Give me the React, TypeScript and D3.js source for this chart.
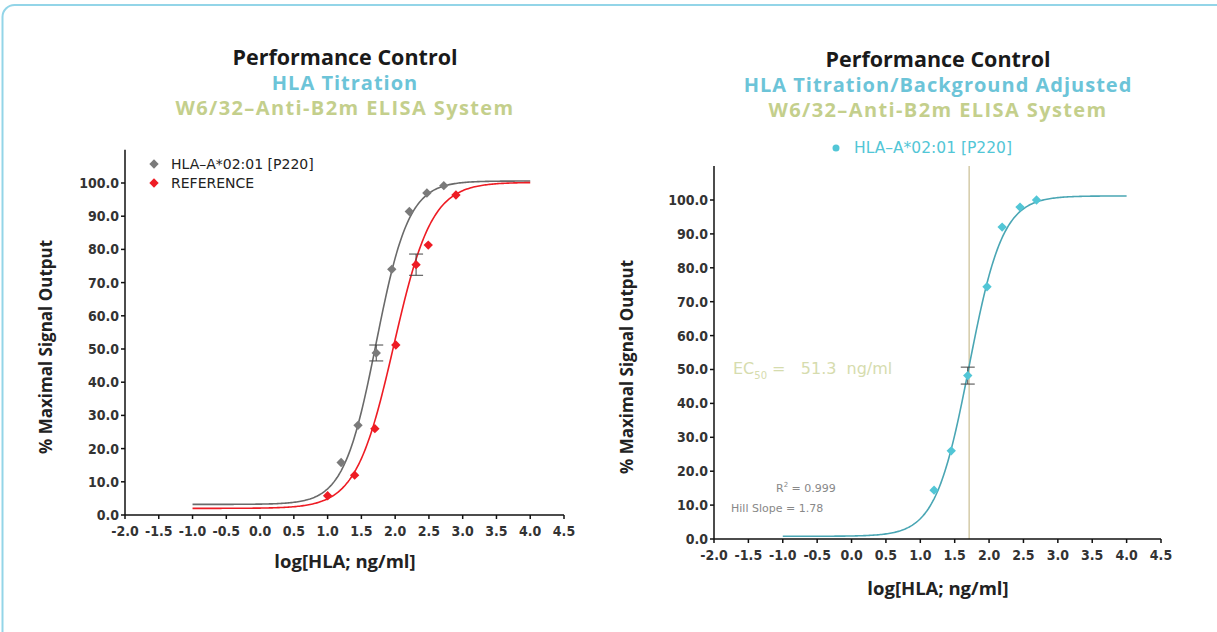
import React from "react";
import * as d3 from "d3";

// log[HLA] concentrations and % maximal signal
const grayX = [1.2, 1.45, 1.72, 1.95, 2.21, 2.47, 2.72];
const grayY = [15.8, 27.0, 48.8, 74.0, 91.4, 97.0, 99.2];
const grayErr = [0, 0, 2.4, 0, 0, 0, 0];

const redX = [1.0, 1.4, 1.7, 2.01, 2.31, 2.49, 2.9];
const redY = [5.8, 12.0, 26.0, 51.2, 75.4, 81.3, 96.4];
const redErr = [0, 0, 0, 0, 3.2, 0, 0];

const cyanX = [1.2, 1.45, 1.69, 1.97, 2.19, 2.45, 2.69];
const cyanY = [14.4, 26.0, 48.2, 74.4, 92.0, 97.9, 100.0];
const cyanErr = [0, 0, 2.5, 0, 0, 0, 0];

// 4PL fit parameters [bottom, top, logEC50, hill]
const grayFit = [3.2, 100.6, 1.72, 1.8];
const redFit = [2.0, 100.2, 1.98, 1.55];
const cyanFit = [0.8, 101.2, 1.71, 1.78];

const xTicks = [-2.0, -1.5, -1.0, -0.5, 0.0, 0.5, 1.0, 1.5, 2.0, 2.5, 3.0, 3.5, 4.0, 4.5];
const yTicks = [0, 10, 20, 30, 40, 50, 60, 70, 80, 90, 100];
const curveRange = [-1.0, 4.0];

const fmt = (v: number) => v.toFixed(1);
const tickFont = "'DejaVu Sans Condensed', 'DejaVu Sans', sans-serif";
const legFont = "'DejaVu Sans', sans-serif";
const titleFont = "'Open Sans', 'DejaVu Sans', sans-serif";

const fit4pl = (p: number[], x: number) => p[0] + (p[1] - p[0]) / (1 + Math.pow(10, (p[2] - x) * p[3]));
const diamond = d3.symbol().type(d3.symbolDiamond2).size(56)();

const Series = ({ xs, ys, errs, fit, x, y, color, line }: any) => {
    const pts = d3.range(curveRange[0], curveRange[1] + 0.001, 0.02).map(v => [v, fit4pl(fit, v)]);
    const path = d3.line().x((d: any) => x(d[0])).y((d: any) => y(d[1]))(pts as any);
    return (
        <g>
            <path d={path || ""} fill="none" stroke={line} strokeWidth={1.6} />
            {xs.map((v: number, i: number) => errs[i] > 0 ? (
                <g key={'e' + i} stroke="#444" strokeWidth={1}>
                    <line x1={x(v)} x2={x(v)} y1={y(ys[i] - errs[i])} y2={y(ys[i] + errs[i])} />
                    <line x1={x(v) - 7} x2={x(v) + 7} y1={y(ys[i] - errs[i])} y2={y(ys[i] - errs[i])} />
                    <line x1={x(v) - 7} x2={x(v) + 7} y1={y(ys[i] + errs[i])} y2={y(ys[i] + errs[i])} />
                </g>
            ) : null)}
            {xs.map((v: number, i: number) => (
                <path key={'p' + i} d={diamond || ""} transform={`translate(${x(v)},${y(ys[i])})`} fill={color} />
            ))}
        </g>
    );
};

const Axes = ({ x, y }: any) => {
    const [x0] = x.range();
    const [y0] = y.range();
    return (
        <g fontFamily={tickFont} fontSize={14} fill="#222">
            <line x1={x0} x2={x0} y1={y(110)} y2={y0} stroke="#111" strokeWidth={1.5} />
            <line x1={x0} x2={x(4.5)} y1={y0} y2={y0} stroke="#111" strokeWidth={1.5} />
            {yTicks.map(t => (
                <g key={'y' + t}>
                    <line x1={x0 - 4} x2={x0} y1={y(t)} y2={y(t)} stroke="#111" strokeWidth={1.5} />
                    <text x={x0 - 6} y={y(t)} dy="0.35em" textAnchor="end" fontWeight="bold" fill="#333">{fmt(t)}</text>
                </g>
            ))}
            {xTicks.map(t => (
                <g key={'x' + t}>
                    <line x1={x(t)} x2={x(t)} y1={y0} y2={y0 + 4} stroke="#111" strokeWidth={1.5} />
                    <text x={x(t)} y={y0 + 21} textAnchor="middle" fontWeight="bold" fill="#333">{fmt(t)}</text>
                </g>
            ))}
        </g>
    );
};

const Titles = ({ cx, top, sub }: any) => (
    <g fontFamily={titleFont} fontWeight="bold" textAnchor="middle">
        <text x={cx} y={top} fontSize={21.5} fill="#1a1a1a">Performance Control</text>
        <text x={cx} y={top + 25} fontSize={20} letterSpacing={1} fill="#6cc4d8">{sub}</text>
        <text x={cx} y={top + 50} fontSize={20} letterSpacing={1.4} fill="#c4cf8c">W6/32–Anti-B2m ELISA System</text>
    </g>
);

export default function App() {
    const xl = d3.scaleLinear().domain([-2, 4.5]).range([125, 564]);
    const yl = d3.scaleLinear().domain([0, 100]).range([515, 183]);
    const xr = d3.scaleLinear().domain([-2, 4.5]).range([714, 1161]);
    const yr = d3.scaleLinear().domain([0, 100]).range([539, 200]);

    return (
        <svg width={1217} height={632} style={{ position: "absolute", left: 0, top: 0 }}>
            <rect x={0} y={0} width={1217} height={632} fill="#fff" />
            <rect x={2.5} y={5} width={1240} height={660} rx={12} fill="none" stroke="#93d5e8" strokeWidth={2} />

            {/* left chart */}
            <Titles cx={345} top={65} sub="HLA Titration" />
            <Axes x={xl} y={yl} />
            <Series xs={grayX} ys={grayY} errs={grayErr} fit={grayFit} x={xl} y={yl} color="#7a7a7a" line="#6a6a6a" />
            <Series xs={redX} ys={redY} errs={redErr} fit={redFit} x={xl} y={yl} color="#ee1c24" line="#ee1c24" />
            <g fontFamily={legFont} fontSize={14} fill="#222">
                <path d={diamond || ""} transform="translate(154,164)" fill="#7a7a7a" />
                <text x={171} y={164} dy="0.35em">HLA–A*02:01 [P220]</text>
                <path d={diamond || ""} transform="translate(154,183)" fill="#ee1c24" />
                <text x={171} y={183} dy="0.35em">REFERENCE</text>
            </g>
            <text transform="translate(52,347) rotate(-90)" textAnchor="middle" fontFamily={titleFont}
                fontWeight="bold" fontSize={17} fill="#222">% Maximal Signal Output</text>
            <text x={345} y={568} textAnchor="middle" fontFamily={titleFont} fontWeight="bold" fontSize={18.5} fill="#222">log[HLA; ng/ml]</text>

            {/* right chart */}
            <Titles cx={938} top={67} sub="HLA Titration/Background Adjusted" />
            <line x1={xr(cyanFit[2])} x2={xr(cyanFit[2])} y1={yr(110)} y2={yr(0)} stroke="#c9bd92" strokeWidth={1.2} />
            <Axes x={xr} y={yr} />
            <Series xs={cyanX} ys={cyanY} errs={cyanErr} fit={cyanFit} x={xr} y={yr} color="#52c6d6" line="#4aa6b4" />
            <g fontFamily={legFont} fontSize={15.5} fill="#52c6d6">
                <circle cx={836} cy={148} r={3.5} />
                <text x={854} y={148} dy="0.35em">HLA–A*02:01 [P220]</text>
            </g>
            <text x={733} y={374} fontFamily={legFont} fontSize={16} fill="#d6dcae" style={{ whiteSpace: "pre" }}>
                EC<tspan fontSize={10} dy={5}>50</tspan><tspan dy={-5}>{" =   51.3  ng/ml"}</tspan>
            </text>
            <g fontFamily={legFont} fontSize={11} fill="#888" style={{ whiteSpace: "pre" }}>
                <text x={776} y={492}>R<tspan fontSize={7} dy={-5}>2</tspan><tspan dy={5}>{" =  0.999"}</tspan></text>
                <text x={731} y={512}>{"Hill Slope =  1.78"}</text>
            </g>
            <text transform="translate(633,367) rotate(-90)" textAnchor="middle" fontFamily={titleFont}
                fontWeight="bold" fontSize={17} fill="#222">% Maximal Signal Output</text>
            <text x={938} y={595} textAnchor="middle" fontFamily={titleFont} fontWeight="bold" fontSize={18.5} fill="#222">log[HLA; ng/ml]</text>
        </svg>
    );
}
